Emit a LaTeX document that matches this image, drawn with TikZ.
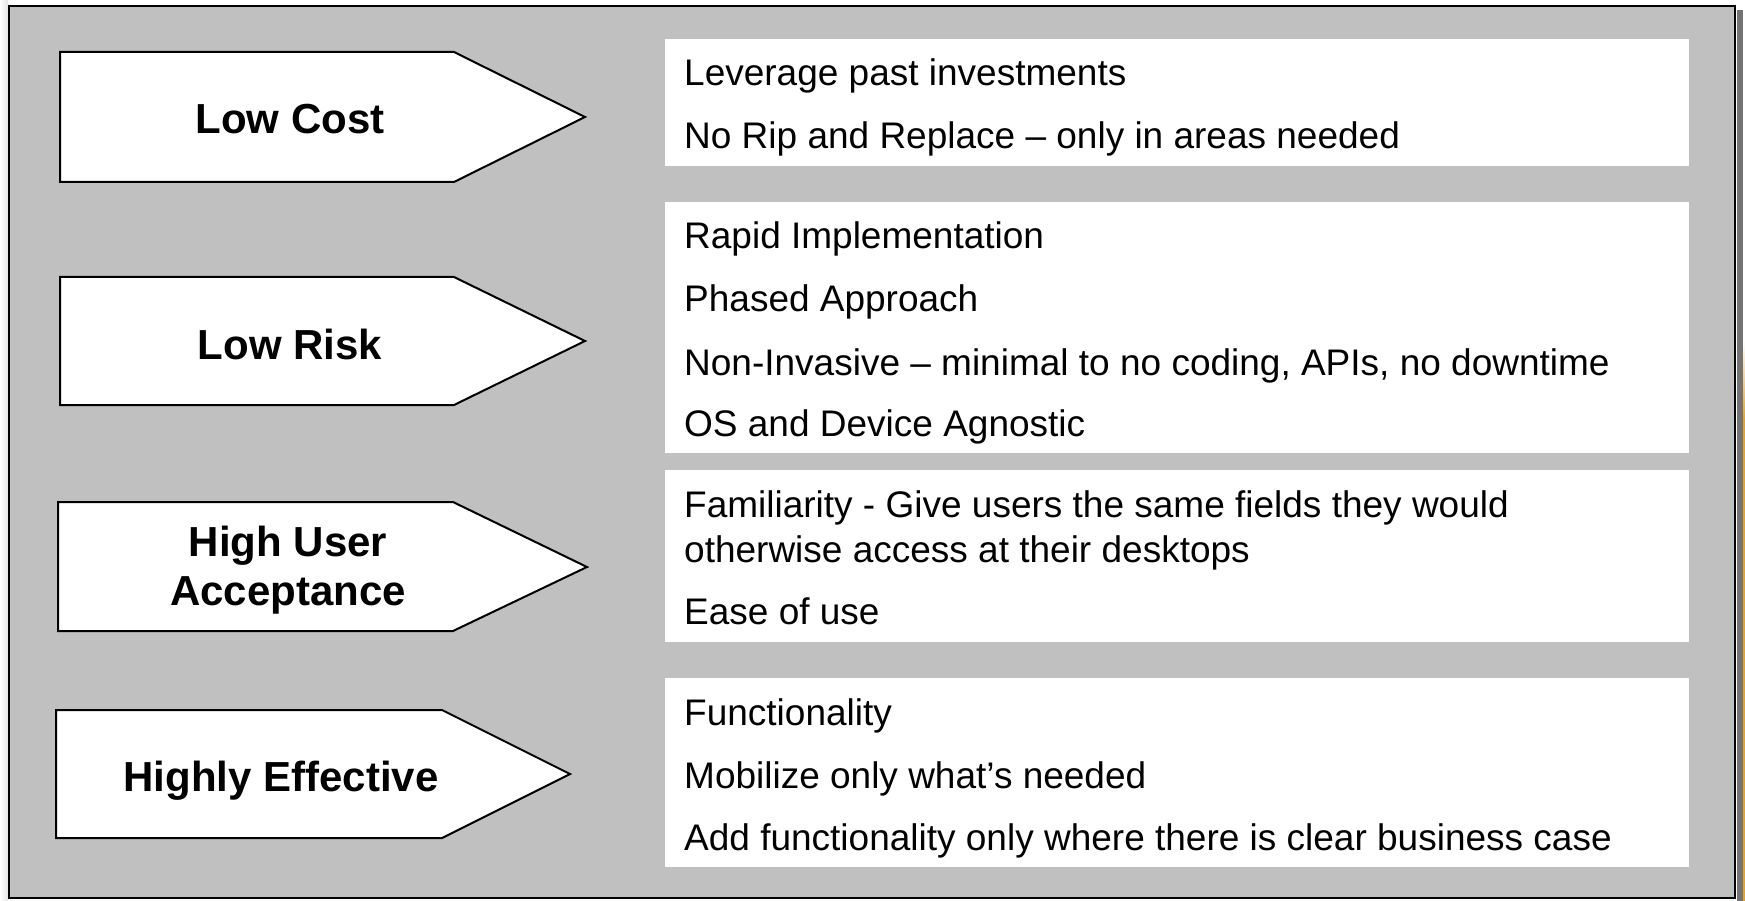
\documentclass[tikz,border=0pt]{standalone}
\usepackage{fontspec}
\setmainfont{Liberation Sans}
\definecolor{panelgray}{HTML}{C0C0C0}
\definecolor{edgeorange}{HTML}{E8A020}
\begin{document}
\begin{tikzpicture}[x=1pt,y=-1pt,
  item/.style={anchor=base west,inner sep=0pt,font=\fontsize{37}{45}\selectfont},
  tag/.style={inner sep=0pt,font=\fontsize{42}{49}\bfseries\selectfont,align=center},
  chevron/.style={draw=black,line width=2pt,fill=white,line join=miter},
  panel/.style={fill=white}]
\useasboundingbox (0,0) rectangle (1745,901);

% soft edge on the left
\shade[left color=white,right color=black!10] (0,0) rectangle (8,901);
% drop shadow and neighbouring edge on the right
\fill[black!55] (1737,10) rectangle (1743,901);
\shade[top color=white,bottom color=edgeorange] (1743,340) rectangle (1745,420);
\fill[edgeorange] (1743,420) rectangle (1745,901);

% grey frame
\draw[fill=panelgray,draw=black,line width=2.5pt] (9,6) rectangle (1735,898);

% chevrons
\draw[chevron] (60,52) -- (454,52) -- (585,117) -- (454,182) -- (60,182) -- cycle;
\draw[chevron] (60,277) -- (454,277) -- (585,341) -- (454,405) -- (60,405) -- cycle;
\draw[chevron] (58,502) -- (453,502) -- (587,567) -- (453,631) -- (58,631) -- cycle;
\draw[chevron] (56,710) -- (442,710) -- (570,774) -- (442,838) -- (56,838) -- cycle;

\node[tag,anchor=base] (cost) at (290,134) {Low Cost};
\node[tag,anchor=base] (risk) at (290,359) {Low Risk};
\node[tag,anchor=center] (accept) at (288,570) {High User\\Acceptance};
\node[tag,anchor=base] (effect) at (281,791) {Highly Effective};

% white panels
\fill[panel] (665,39) rectangle (1689,166);
\fill[panel] (665,202) rectangle (1689,453);
\fill[panel] (665,470) rectangle (1689,642);
\fill[panel] (665,678) rectangle (1689,867);

% panel texts
\node[item] (c1) at (684,86) {Leverage past investments};
\node[item] (c2) at (684,149) {No Rip and Replace – only in areas needed};

\node[item] (r1) at (684,249) {Rapid Implementation};
\node[item] (r2) at (684,311) {Phased Approach};
\node[item] (r3) at (684,375) {Non-Invasive – minimal to no coding, APIs, no downtime};
\node[item] (r4) at (684,436) {OS and Device Agnostic};

% two-line entry: the base anchor sits on its last line
\node[item,align=left] (a1) at (684,562) {Familiarity - Give users the same fields they would\\otherwise access at their desktops};
\node[item] (a2) at (684,624) {Ease of use};

\node[item] (e1) at (684,725) {Functionality};
\node[item] (e2) at (684,788) {Mobilize only what’s needed};
\node[item] (e3) at (684,850) {Add functionality only where there is clear business case};
\end{tikzpicture}
\end{document}
